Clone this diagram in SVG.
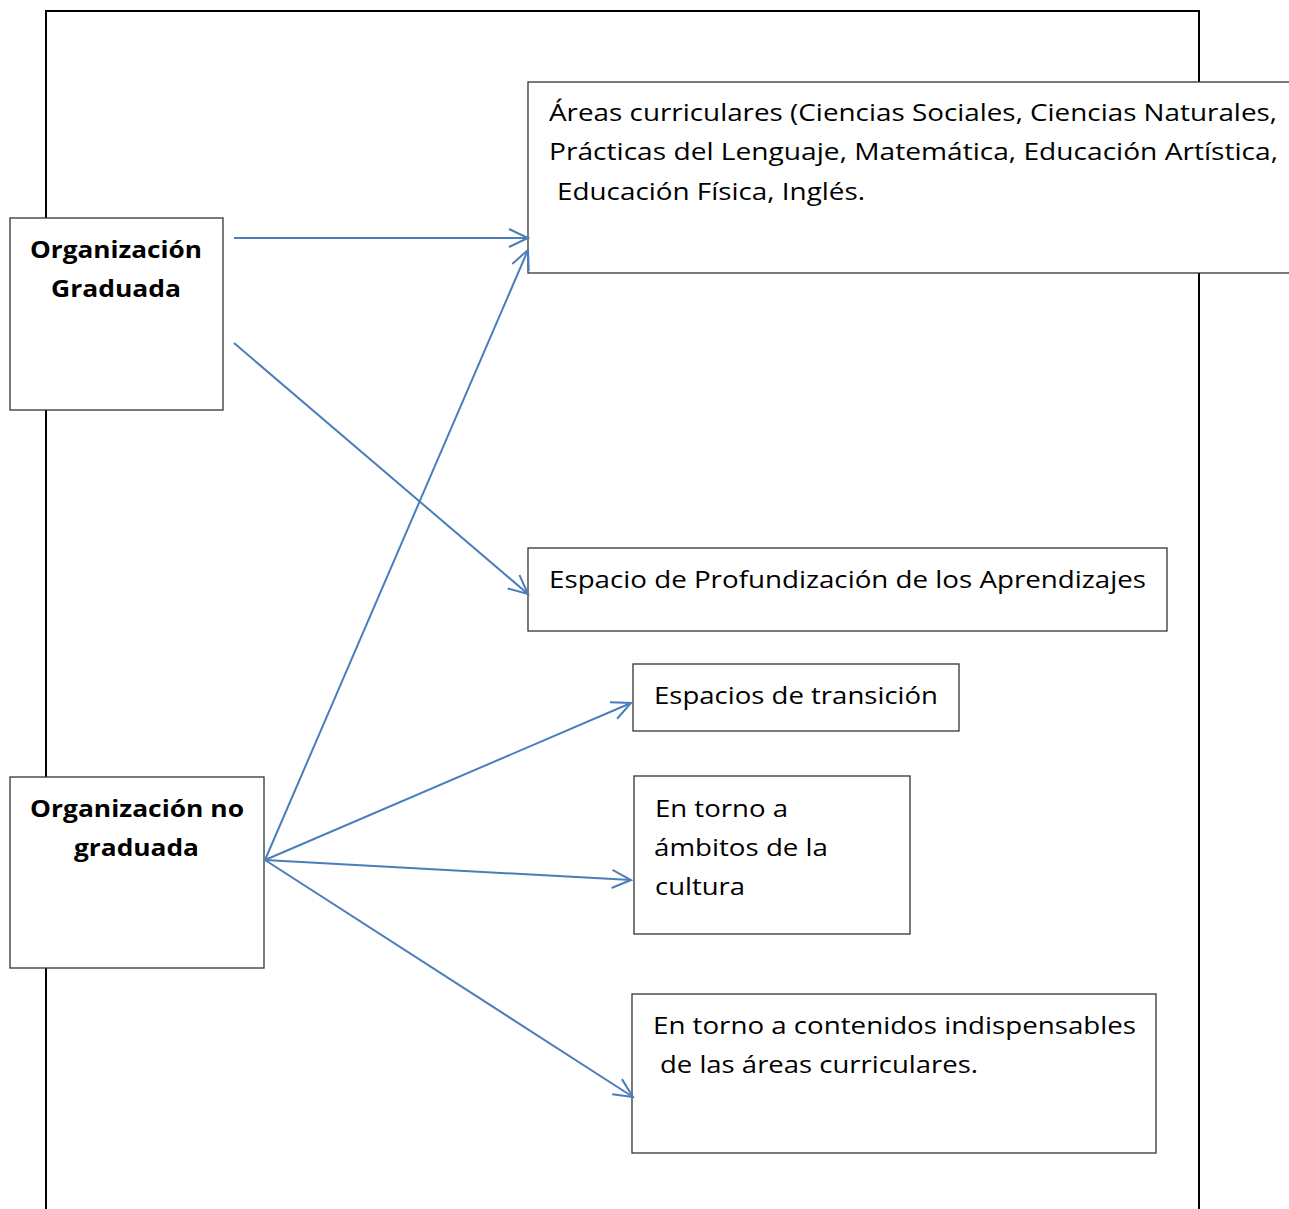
<svg xmlns="http://www.w3.org/2000/svg" width="1289" height="1209" viewBox="0 0 1289 1209">
<style>
.box{fill:#fff;stroke:#333;stroke-width:1.3}
.t{font-family:"Open Sans","Liberation Sans",sans-serif;font-size:24px;fill:#000}
.b{font-weight:bold;text-anchor:start}
.c{stroke:#4a7ebb;stroke-width:2;fill:none}
</style>
<defs>
<marker id="ah" markerUnits="userSpaceOnUse" markerWidth="24" markerHeight="24" viewBox="0 0 24 24" refX="21" refY="12" orient="auto">
<path d="M2,3 L21,12 L2,21" fill="none" stroke="#4a7ebb" stroke-width="2"/>
</marker>
</defs>
<rect width="1289" height="1209" fill="#fff"/>
<rect x="46" y="11" width="1153" height="1220" fill="none" stroke="#000" stroke-width="2"/>
<g id="n-graduada">
<rect class="box" x="10" y="218" width="213" height="192"/>
<text class="t b" x="30" y="258" textLength="172" lengthAdjust="spacingAndGlyphs">Organización</text>
<text class="t b" x="51" y="297" textLength="130" lengthAdjust="spacingAndGlyphs">Graduada</text>
</g>
<g id="n-nograduada">
<rect class="box" x="10" y="777" width="254" height="191"/>
<text class="t b" x="30" y="817" textLength="214" lengthAdjust="spacingAndGlyphs">Organización no</text>
<text class="t b" x="74" y="856" textLength="125" lengthAdjust="spacingAndGlyphs">graduada</text>
</g>
<g id="n-areas">
<rect class="box" x="528" y="82" width="770" height="191"/>
<text class="t" x="549" y="121" textLength="728" lengthAdjust="spacingAndGlyphs">Áreas curriculares (Ciencias Sociales, Ciencias Naturales,</text>
<text class="t" x="549" y="160" textLength="729" lengthAdjust="spacingAndGlyphs">Prácticas del Lenguaje, Matemática, Educación Artística,</text>
<text class="t" x="557" y="200" textLength="308" lengthAdjust="spacingAndGlyphs">Educación Física, Inglés.</text>
</g>
<g id="n-profundizacion">
<rect class="box" x="528" y="548" width="639" height="83"/>
<text class="t" x="549" y="588" textLength="597" lengthAdjust="spacingAndGlyphs">Espacio de Profundización de los Aprendizajes</text>
</g>
<g id="n-transicion">
<rect class="box" x="633" y="664" width="326" height="67"/>
<text class="t" x="654" y="704" textLength="284" lengthAdjust="spacingAndGlyphs">Espacios de transición</text>
</g>
<g id="n-ambitos">
<rect class="box" x="634" y="776" width="276" height="158"/>
<text class="t" x="655" y="817" textLength="133" lengthAdjust="spacingAndGlyphs">En torno a</text>
<text class="t" x="654" y="856" textLength="174" lengthAdjust="spacingAndGlyphs">ámbitos de la</text>
<text class="t" x="655" y="895" textLength="90" lengthAdjust="spacingAndGlyphs">cultura</text>
</g>
<g id="n-contenidos">
<rect class="box" x="632" y="994" width="524" height="159"/>
<text class="t" x="653" y="1034" textLength="483" lengthAdjust="spacingAndGlyphs">En torno a contenidos indispensables</text>
<text class="t" x="660" y="1073" textLength="318" lengthAdjust="spacingAndGlyphs">de las áreas curriculares.</text>
</g>
<g id="connectors">
<line class="c" x1="234" y1="238" x2="528" y2="238" marker-end="url(#ah)"/>
<line class="c" x1="234" y1="343" x2="528" y2="594" marker-end="url(#ah)"/>
<line class="c" x1="265" y1="860" x2="528" y2="250" marker-end="url(#ah)"/>
<line class="c" x1="265" y1="860" x2="631" y2="703" marker-end="url(#ah)"/>
<line class="c" x1="265" y1="860" x2="631" y2="880" marker-end="url(#ah)"/>
<line class="c" x1="265" y1="860" x2="633" y2="1097" marker-end="url(#ah)"/>
</g>
</svg>
